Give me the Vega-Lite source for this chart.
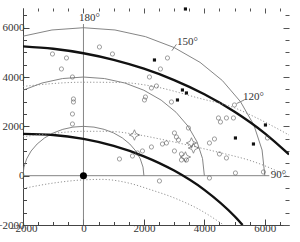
{
  "$schema": "https://vega.github.io/schema/vega-lite/v6.json",
  "width": 266,
  "height": 217,
  "autosize": {"type": "none"},
  "padding": {"left": 23, "top": 8, "right": 11, "bottom": 17},
  "background": "white",
  "config": {"view": {"stroke": null}, "font": "Liberation Serif"},
  "datasets": {
    "thin": [
      {"g": "r2", "o": 0, "x": 2000, "y": 0}, {"g": "r2", "o": 1, "x": 1970, "y": 347}, {"g": "r2", "o": 2, "x": 1879, "y": 684},
      {"g": "r2", "o": 3, "x": 1732, "y": 1000}, {"g": "r2", "o": 4, "x": 1532, "y": 1286}, {"g": "r2", "o": 5, "x": 1286, "y": 1532},
      {"g": "r2", "o": 6, "x": 1000, "y": 1732}, {"g": "r2", "o": 7, "x": 684, "y": 1879}, {"g": "r2", "o": 8, "x": 347, "y": 1970},
      {"g": "r2", "o": 9, "x": 0, "y": 2000}, {"g": "r2", "o": 10, "x": -347, "y": 1970}, {"g": "r2", "o": 11, "x": -684, "y": 1879},
      {"g": "r2", "o": 12, "x": -1000, "y": 1732}, {"g": "r2", "o": 13, "x": -1286, "y": 1532}, {"g": "r2", "o": 14, "x": -1532, "y": 1286},
      {"g": "r2", "o": 15, "x": -1732, "y": 1000}, {"g": "r2", "o": 16, "x": -1879, "y": 684}, {"g": "r2", "o": 17, "x": -1970, "y": 347},
      {"g": "r2", "o": 18, "x": -2000, "y": 0},
      {"g": "r4", "o": 0, "x": 4000, "y": 0}, {"g": "r4", "o": 1, "x": 3939, "y": 695}, {"g": "r4", "o": 2, "x": 3759, "y": 1368},
      {"g": "r4", "o": 3, "x": 3464, "y": 2000}, {"g": "r4", "o": 4, "x": 3064, "y": 2571}, {"g": "r4", "o": 5, "x": 2571, "y": 3064},
      {"g": "r4", "o": 6, "x": 2000, "y": 3464}, {"g": "r4", "o": 7, "x": 1368, "y": 3759}, {"g": "r4", "o": 8, "x": 695, "y": 3939},
      {"g": "r4", "o": 9, "x": 0, "y": 4000}, {"g": "r4", "o": 10, "x": -695, "y": 3939}, {"g": "r4", "o": 11, "x": -1368, "y": 3759},
      {"g": "r4", "o": 12, "x": -2000, "y": 3464},
      {"g": "r6", "o": 0, "x": 6000, "y": 0}, {"g": "r6", "o": 1, "x": 5909, "y": 1042}, {"g": "r6", "o": 2, "x": 5638, "y": 2052},
      {"g": "r6", "o": 3, "x": 5196, "y": 3000}, {"g": "r6", "o": 4, "x": 4596, "y": 3857}, {"g": "r6", "o": 5, "x": 3857, "y": 4596},
      {"g": "r6", "o": 6, "x": 3000, "y": 5196}, {"g": "r6", "o": 7, "x": 2052, "y": 5638}, {"g": "r6", "o": 8, "x": 1042, "y": 5909},
      {"g": "r6", "o": 9, "x": 0, "y": 6000}, {"g": "r6", "o": 10, "x": -1042, "y": 5909}, {"g": "r6", "o": 11, "x": -2000, "y": 5657},
      {"g": "v", "o": 0, "x": 0, "y": -2000}, {"g": "v", "o": 1, "x": 0, "y": 6150},
      {"g": "h", "o": 0, "x": -2000, "y": 0}, {"g": "h", "o": 1, "x": 6150, "y": 0},
      {"g": "t150", "o": 0, "x": 2925, "y": 5066}, {"g": "t150", "o": 1, "x": 3075, "y": 5326},
      {"g": "t120", "o": 0, "x": 5066, "y": 2925}, {"g": "t120", "o": 1, "x": 5326, "y": 3075}
    ],
    "thick": [
      {"g": "A", "x": -2000, "y": 5244}, {"g": "A", "x": -1000, "y": 5145}, {"g": "A", "x": 0, "y": 4964},
      {"g": "A", "x": 1000, "y": 4697}, {"g": "A", "x": 2000, "y": 4338}, {"g": "A", "x": 3000, "y": 3877},
      {"g": "A", "x": 4000, "y": 3302}, {"g": "A", "x": 5000, "y": 2593}, {"g": "A", "x": 6000, "y": 1718},
      {"g": "A", "x": 6800, "y": 863},
      {"g": "B", "x": -2000, "y": 1694}, {"g": "B", "x": -1000, "y": 1650}, {"g": "B", "x": 0, "y": 1490},
      {"g": "B", "x": 1000, "y": 1207}, {"g": "B", "x": 2000, "y": 787}, {"g": "B", "x": 3000, "y": 208},
      {"g": "B", "x": 4000, "y": -574}, {"g": "B", "x": 5000, "y": -1646}, {"g": "B", "x": 5265, "y": -2000}
    ],
    "dot": [
      {"g": "D1", "x": -2000, "y": 3620}, {"g": "D1", "x": 0, "y": 3790}, {"g": "D1", "x": 1200, "y": 3780},
      {"g": "D1", "x": 2400, "y": 3600}, {"g": "D1", "x": 3800, "y": 3150}, {"g": "D1", "x": 5000, "y": 2750},
      {"g": "D1", "x": 5800, "y": 2300}, {"g": "D1", "x": 6800, "y": 1650},
      {"g": "D2", "x": -2000, "y": 1580}, {"g": "D2", "x": -1000, "y": 1720}, {"g": "D2", "x": 0, "y": 1800},
      {"g": "D2", "x": 800, "y": 1800}, {"g": "D2", "x": 1700, "y": 1680}, {"g": "D2", "x": 2600, "y": 1470},
      {"g": "D2", "x": 3600, "y": 1200}, {"g": "D2", "x": 4600, "y": 910}, {"g": "D2", "x": 5500, "y": 620},
      {"g": "D2", "x": 6200, "y": 300}, {"g": "D2", "x": 6800, "y": -50},
      {"g": "D3", "x": -2000, "y": -520}, {"g": "D3", "x": -1000, "y": -300}, {"g": "D3", "x": 0, "y": -170},
      {"g": "D3", "x": 600, "y": -150}, {"g": "D3", "x": 1500, "y": -300}, {"g": "D3", "x": 2200, "y": -560},
      {"g": "D3", "x": 3000, "y": -900}, {"g": "D3", "x": 3800, "y": -1350}, {"g": "D3", "x": 4640, "y": -2000}
    ],
    "pts": [
      {"t": "o", "x": -1025, "y": 4935}, {"t": "o", "x": -562, "y": 4773}, {"t": "o", "x": -728, "y": 4327},
      {"t": "o", "x": -364, "y": 4002}, {"t": "o", "x": 529, "y": 5219}, {"t": "o", "x": 959, "y": 4935},
      {"t": "o", "x": -331, "y": 3110}, {"t": "o", "x": -331, "y": 2989}, {"t": "o", "x": -364, "y": 2502},
      {"t": "o", "x": -364, "y": 2096}, {"t": "o", "x": 2183, "y": 4002}, {"t": "o", "x": 2249, "y": 3556},
      {"t": "o", "x": 2415, "y": 3637}, {"t": "o", "x": 2547, "y": 4327}, {"t": "o", "x": 2779, "y": 4773},
      {"t": "o", "x": 2911, "y": 2989}, {"t": "o", "x": 2051, "y": 3191}, {"t": "o", "x": 2018, "y": 3070},
      {"t": "o", "x": 1191, "y": 677}, {"t": "o", "x": 1621, "y": 799}, {"t": "o", "x": 1786, "y": 921},
      {"t": "o", "x": 1952, "y": 1002}, {"t": "o", "x": 2249, "y": 1164}, {"t": "o", "x": 3010, "y": 1732},
      {"t": "o", "x": 3076, "y": 1569}, {"t": "o", "x": 3143, "y": 1448}, {"t": "o", "x": 2613, "y": 1285},
      {"t": "o", "x": 2746, "y": 1326}, {"t": "o", "x": 3010, "y": 1002}, {"t": "o", "x": 3242, "y": 880},
      {"t": "o", "x": 3242, "y": 637}, {"t": "o", "x": 3407, "y": 637}, {"t": "o", "x": 3473, "y": 1934},
      {"t": "o", "x": 4532, "y": 2178}, {"t": "o", "x": 2514, "y": -215}, {"t": "o", "x": 4168, "y": 1326},
      {"t": "o", "x": 4334, "y": 1488}, {"t": "o", "x": 4499, "y": 880}, {"t": "o", "x": 4730, "y": 718},
      {"t": "o", "x": 4168, "y": -93}, {"t": "o", "x": 5028, "y": 109}, {"t": "o", "x": 6087, "y": 1529},
      {"t": "o", "x": 4995, "y": 2867}, {"t": "o", "x": 4466, "y": 2340}, {"t": "o", "x": 4730, "y": 2340},
      {"t": "o", "x": 4962, "y": 2340}, {"t": "o", "x": 5954, "y": 150},
      {"t": "s", "x": 2349, "y": 4692}, {"t": "s", "x": 3275, "y": 3475}, {"t": "s", "x": 3407, "y": 3354},
      {"t": "s", "x": 3110, "y": 3070}, {"t": "s", "x": 5028, "y": 1529}, {"t": "s", "x": 5624, "y": 1285},
      {"t": "s", "x": 6021, "y": 2056}, {"t": "s", "x": 3374, "y": 6760},
      {"t": "star", "x": 1687, "y": 1650}, {"t": "star", "x": 3573, "y": 1326}, {"t": "star", "x": 3639, "y": 1123},
      {"t": "star", "x": 3374, "y": 758},
      {"t": "big", "x": 0, "y": 0}
    ],
    "labels": [
      {"x": 198, "y": 6395, "text": "180°"},
      {"x": 3440, "y": 5422, "text": "150°"},
      {"x": 5624, "y": 3191, "text": "120°"},
      {"x": 6450, "y": 28, "text": "90°"}
    ]
  },
  "layer": [
    {
      "data": {"name": "thin"},
      "mark": {"type": "line", "color": "#777", "strokeWidth": 0.9, "clip": true},
      "encoding": {
        "x": {"field": "x", "type": "quantitative", "scale": {"domain": [-2000, 6800], "nice": false, "zero": false},
          "axis": {"orient": "bottom", "title": null, "grid": false, "format": "d",
            "values": [-2000, -1500, -1000, -500, 0, 500, 1000, 1500, 2000, 2500, 3000, 3500, 4000, 4500, 5000, 5500, 6000, 6500],
            "labelExpr": "datum.value % 2000 === 0 ? datum.label : ''",
            "tickSize": {"condition": {"test": "datum.value % 2000 === 0", "value": -6}, "value": -3.5},
            "labelPadding": 3, "labelFont": "Liberation Serif", "labelFontSize": 11, "labelColor": "#333",
            "domainColor": "#444", "tickColor": "#444", "labelFlush": false, "labelOverlap": false}},
        "y": {"field": "y", "type": "quantitative", "scale": {"domain": [-2000, 6800], "nice": false, "zero": false},
          "axis": {"orient": "left", "title": null, "grid": false, "format": "d",
            "values": [-2000, -1500, -1000, -500, 0, 500, 1000, 1500, 2000, 2500, 3000, 3500, 4000, 4500, 5000, 5500, 6000, 6500],
            "labelExpr": "datum.value % 2000 === 0 ? datum.label : ''",
            "tickSize": {"condition": {"test": "datum.value % 2000 === 0", "value": -6}, "value": -3.5},
            "labelPadding": 5, "labelFont": "Liberation Serif", "labelFontSize": 11, "labelColor": "#333",
            "domainColor": "#444", "tickColor": "#444", "labelFlush": false, "labelOverlap": false}},
        "detail": {"field": "g"},
        "order": {"field": "o", "type": "quantitative"}
      }
    },
    {
      "data": {"name": "thick"},
      "mark": {"type": "line", "color": "#111", "strokeWidth": 2.4, "interpolate": "monotone", "clip": true},
      "encoding": {
        "x": {"field": "x", "type": "quantitative", "scale": {"domain": [-2000, 6800], "nice": false, "zero": false},
          "axis": {"orient": "top", "title": null, "grid": false, "labels": false, "domain": false,
            "values": [-2000, -1500, -1000, -500, 0, 500, 1000, 1500, 2000, 2500, 3000, 3500, 4000, 4500, 5000, 5500, 6000, 6500],
            "tickSize": {"condition": {"test": "datum.value % 2000 === 0", "value": -5}, "value": -3},
            "tickColor": "#555"}},
        "y": {"field": "y", "type": "quantitative", "scale": {"domain": [-2000, 6800], "nice": false, "zero": false},
          "axis": {"orient": "right", "title": null, "grid": false, "labels": false, "domain": false,
            "values": [-2000, -1500, -1000, -500, 0, 500, 1000, 1500, 2000, 2500, 3000, 3500, 4000, 4500, 5000, 5500, 6000, 6500],
            "tickSize": {"condition": {"test": "datum.value % 2000 === 0", "value": -6}, "value": -4},
            "tickColor": "#555"}},
        "detail": {"field": "g"}
      }
    },
    {
      "data": {"name": "dot"},
      "mark": {"type": "line", "color": "#888", "strokeWidth": 0.9, "strokeDash": [1.2, 2], "interpolate": "monotone", "clip": true},
      "encoding": {
        "x": {"field": "x", "type": "quantitative", "axis": null},
        "y": {"field": "y", "type": "quantitative", "axis": null},
        "detail": {"field": "g"}
      }
    },
    {
      "data": {"name": "pts"},
      "transform": [{"filter": "datum.t === 'o'"}],
      "mark": {"type": "point", "shape": "circle", "size": 18, "filled": false, "stroke": "#555", "strokeWidth": 0.8},
      "encoding": {
        "x": {"field": "x", "type": "quantitative", "axis": null},
        "y": {"field": "y", "type": "quantitative", "axis": null}
      }
    },
    {
      "data": {"name": "pts"},
      "transform": [{"filter": "datum.t === 's'"}],
      "mark": {"type": "square", "size": 10, "color": "#111", "opacity": 1},
      "encoding": {
        "x": {"field": "x", "type": "quantitative", "axis": null},
        "y": {"field": "y", "type": "quantitative", "axis": null}
      }
    },
    {
      "data": {"name": "pts"},
      "transform": [{"filter": "datum.t === 'star'"}],
      "mark": {"type": "point", "shape": "M0,-1L0.3,-0.3L1,0L0.3,0.3L0,1L-0.3,0.3L-1,0L-0.3,-0.3Z", "size": 110, "filled": false, "stroke": "#444", "strokeWidth": 0.8},
      "encoding": {
        "x": {"field": "x", "type": "quantitative", "axis": null},
        "y": {"field": "y", "type": "quantitative", "axis": null}
      }
    },
    {
      "data": {"name": "pts"},
      "transform": [{"filter": "datum.t === 'big'"}],
      "mark": {"type": "circle", "size": 50, "color": "#000", "opacity": 1},
      "encoding": {
        "x": {"field": "x", "type": "quantitative", "axis": null},
        "y": {"field": "y", "type": "quantitative", "axis": null}
      }
    },
    {
      "data": {"name": "labels"},
      "mark": {"type": "text", "font": "Liberation Serif", "fontSize": 11, "color": "#333", "align": "center", "baseline": "middle"},
      "encoding": {
        "x": {"field": "x", "type": "quantitative", "axis": null},
        "y": {"field": "y", "type": "quantitative", "axis": null},
        "text": {"field": "text"}
      }
    }
  ],
  "resolve": {"axis": {"x": "independent", "y": "independent"}}
}
